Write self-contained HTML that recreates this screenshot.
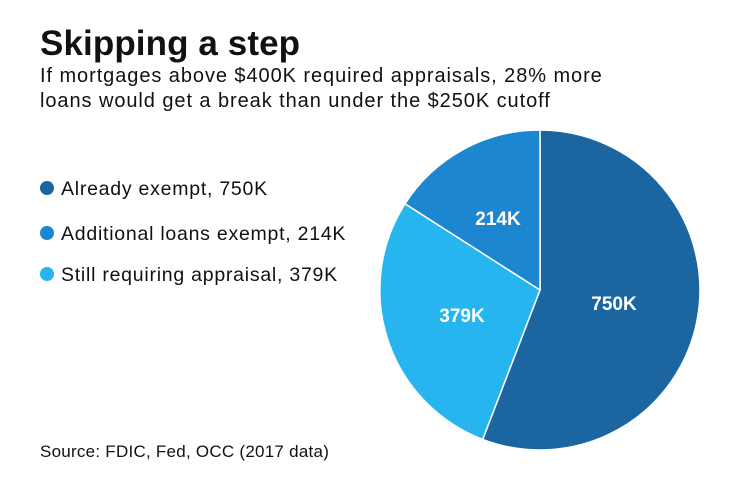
<!DOCTYPE html>
<html><head><meta charset="utf-8"><style>
html,body{margin:0;padding:0;background:#fff;}
body{width:740px;height:482px;position:relative;overflow:hidden;font-family:"Liberation Sans",sans-serif;color:#111;}
.t{position:absolute;white-space:nowrap;}
</style></head><body>
<div class="t" style="left:40px;top:24px;font-size:35px;font-weight:bold;letter-spacing:0.1px;">Skipping a step</div>
<div class="t" style="left:40px;top:64px;font-size:20px;line-height:25px;letter-spacing:0.93px;">If mortgages above $400K required appraisals, 28% more<br>loans would get a break than under the $250K cutoff</div>
<svg width="740" height="482" style="position:absolute;left:0;top:0">
<g font-family="Liberation Sans" font-size="19.5" fill="#111" letter-spacing="0.75">
<circle cx="47" cy="188" r="7" fill="#1b66a0"/>
<circle cx="47" cy="233" r="7" fill="#1c86d0"/>
<circle cx="47" cy="274" r="7" fill="#27b5ef"/>
<text x="61" y="195">Already exempt, 750K</text>
<text x="61" y="240">Additional loans exempt, 214K</text>
<text x="61" y="281">Still requiring appraisal, 379K</text>
</g>
<path d="M540,290 L540,130 A160,160 0 1 1 482.7,439.4 Z" fill="#1b66a0" stroke="#fff" stroke-width="1.5"/>
<path d="M540,290 L482.7,439.4 A160,160 0 0 1 405,203.8 Z" fill="#27b5ef" stroke="#fff" stroke-width="1.5"/>
<path d="M540,290 L405,203.8 A160,160 0 0 1 540,130 Z" fill="#1c86d0" stroke="#fff" stroke-width="1.5"/>
<text x="614" y="310" font-size="19" font-weight="bold" fill="#fff" text-anchor="middle" font-family="Liberation Sans">750K</text>
<text x="462" y="322" font-size="19" font-weight="bold" fill="#fff" text-anchor="middle" font-family="Liberation Sans">379K</text>
<text x="498" y="225" font-size="19" font-weight="bold" fill="#fff" text-anchor="middle" font-family="Liberation Sans">214K</text>
<text x="40" y="457" font-size="17" letter-spacing="0.25" fill="#111" font-family="Liberation Sans">Source: FDIC, Fed, OCC (2017 data)</text>
</svg>
</body></html>
